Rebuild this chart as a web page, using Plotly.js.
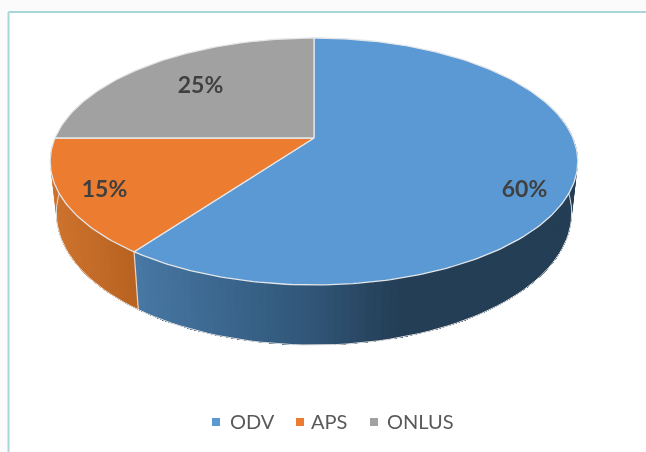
<!DOCTYPE html>
<html>
<head>
<meta charset="utf-8">
<script src="https://cdn.plot.ly/plotly-3.0.1.min.js"></script>
<style>html,body{margin:0;padding:0;background:#fff;overflow:hidden}#chart{width:646px;height:452px;filter:blur(0.45px)}</style>
</head>
<body>
<div id="chart"></div>
<script>
// ---- data ----
var categories = ["ODV", "APS", "ONLUS"];
var shares = [60, 15, 25];
var labels = ["60%", "15%", "25%"];
var faceColors = ["#5A99D4", "#EB7C30", "#A1A1A1"];

// ---- styling / placement ----
var labelPos = {x: [524.5, 104.5, 200.5], y: [191, 191, 87]};
var legendMarkX = [216, 300, 374];
var legendTextX = [230, 311, 387];
var legendY = 424;

// Perspective projection of the disc: top and bottom planes in chart pixels
var top3d = {cx: 314, C: 259, A: -92.8, B: 138, k: 0.19};
var bot3d = {cx: 314, C: 253, A: -91.5, B: 188, k: 0.19};
function project(p, deg) {
  var t = deg * Math.PI / 180, u = Math.sin(t), v = Math.cos(t), d = 1 + p.k * v;
  return [p.cx + p.C * u / d, (p.A * v + p.B) / d];
}
function shade(stops, x) {
  var c = stops[stops.length-1][1];
  if (x <= stops[0][0]) c = stops[0][1];
  else for (var i = 1; i < stops.length; i++) {
    if (x <= stops[i][0]) {
      var f = (x - stops[i-1][0]) / (stops[i][0] - stops[i-1][0]);
      var a = stops[i-1][1], b = stops[i][1];
      c = [0,1,2].map(function(k){return Math.round(a[k] + (b[k]-a[k])*f);});
      break;
    }
  }
  return "rgb(" + c.join(",") + ")";
}
var sideShades = [
  [[137,[72,120,165]],[250,[56,98,136]],[323,[47,84,117]],[400,[36,62,86]],[600,[36,62,86]]],
  [[50,[206,116,46]],[134,[184,98,33]]]
];

var total = shares.reduce(function(a,b){return a+b;},0);
var bounds = [0];
shares.forEach(function(s,i){ bounds.push(bounds[i] + s / total * 360); });

var traces = [];
var none = {width:0};
// side walls: painted in overlapping layers so that the gradient has no seams
function wall(i, from, to, forward) {
  var step = 1.5;
  var layers = [];
  for (var a = from; a < to - 1e-6; a += step) layers.push(a);
  layers.forEach(function(a){
    var xs=[],ys=[],b,p,back=[];
    for (b = a; b < to; b += step) { p = project(top3d,b); xs.push(p[0]); ys.push(p[1]); }
    p = project(top3d,to); xs.push(p[0]); ys.push(p[1]);
    p = project(bot3d,to); xs.push(p[0]); ys.push(p[1]);
    for (b = to; b > a; b -= step) { p = project(bot3d,b); xs.push(p[0]); ys.push(p[1]); }
    p = project(bot3d,a); xs.push(p[0]); ys.push(p[1]);
    var q = project(top3d,a);
    xs.push(q[0]); ys.push(q[1]);
    traces.push({type:"scatter",mode:"lines",x:xs,y:ys,fill:"toself",
      fillcolor:shade(sideShades[i],(q[0]+p[0])/2),line:none,hoverinfo:"skip",showlegend:false});
  });
}
wall(0, 70, bounds[1]);
// orange wall painted from the far (left) end towards the divider
(function(){
  var to = bounds[2], step = 1.5;
  for (var e = to; e > bounds[1] + 1e-6; e -= step) {
    var xs=[],ys=[],b,p;
    for (b = bounds[1]; b < e; b += step) { p = project(top3d,b); xs.push(p[0]); ys.push(p[1]); }
    p = project(top3d,e); xs.push(p[0]); ys.push(p[1]); var q = p;
    p = project(bot3d,e); xs.push(p[0]); ys.push(p[1]); var mid = (q[0]+p[0])/2;
    for (b = e; b > bounds[1]; b -= step) { p = project(bot3d,b); xs.push(p[0]); ys.push(p[1]); }
    p = project(bot3d,bounds[1]); xs.push(p[0]); ys.push(p[1]);
    p = project(top3d,bounds[1]); xs.push(p[0]); ys.push(p[1]);
    traces.push({type:"scatter",mode:"lines",x:xs,y:ys,fill:"toself",
      fillcolor:shade(sideShades[1],mid),line:none,hoverinfo:"skip",showlegend:false});
  }
})();
// outer edge of the bottom rim
(function(){
  var xs=[],ys=[];
  for (var a=80;a<=270;a+=2){var p=project(bot3d,a);xs.push(p[0]);ys.push(p[1]);}
  traces.push({type:"scatter",mode:"lines",x:xs,y:ys,line:{color:"#e2e2e2",width:1},hoverinfo:"skip",showlegend:false});
})();
// top faces
shares.forEach(function(s,i){
  var xs=[top3d.cx],ys=[top3d.B];
  for (var a=bounds[i];a<bounds[i+1];a+=1){var p=project(top3d,a);xs.push(p[0]);ys.push(p[1]);}
  var e=project(top3d,bounds[i+1]);xs.push(e[0],top3d.cx);ys.push(e[1],top3d.B);
  traces.push({type:"scatter",mode:"lines",x:xs,y:ys,fill:"toself",fillcolor:faceColors[i],
    line:{color:"#e4e7ea",width:1.3},name:categories[i],hoverinfo:"skip",showlegend:false});
});
// wall divider
(function(){
  var a=bounds[1],p=project(top3d,a),q=project(bot3d,a);
  traces.push({type:"scatter",mode:"lines",x:[p[0],q[0]],y:[p[1],q[1]],line:{color:"#e4d6c8",width:1.2},hoverinfo:"skip",showlegend:false});
})();
// value labels
traces.push({type:"scatter",mode:"text",x:labelPos.x,y:labelPos.y,text:labels,textposition:"middle center",
  textfont:{family:"Lato, sans-serif",size:23,color:"#404040",weight:700},hoverinfo:"skip",showlegend:false});
// legend
categories.forEach(function(c,i){
  traces.push({type:"scatter",mode:"markers",x:[legendMarkX[i]],y:[422],name:c,
    marker:{symbol:"square",size:8,color:faceColors[i]},hoverinfo:"skip",showlegend:false});
});
traces.push({type:"scatter",mode:"text",x:legendTextX,y:[legendY-2+2,legendY,legendY],text:categories,textposition:"middle right",
  textfont:{family:"Lato, sans-serif",size:20,color:"#595959"},hoverinfo:"skip",showlegend:false});

var layout = {
  width:646,height:452,margin:{l:0,r:0,t:0,b:0},paper_bgcolor:"#fff",plot_bgcolor:"#fff",showlegend:false,
  xaxis:{range:[0,646],visible:false,fixedrange:true},
  yaxis:{range:[452,0],visible:false,fixedrange:true},
  shapes:[
    {type:"rect",layer:"below",x0:0,x1:646,y0:0,y1:11,fillcolor:"#fbfbfb",line:{width:0}},
    {type:"rect",layer:"below",x0:0,x1:7,y0:0,y1:452,fillcolor:"#fbfbfb",line:{width:0}},
    {type:"line",layer:"below",x0:8.5,x1:646,y0:12,y1:12,line:{color:"#A6D6D8",width:2}},
    {type:"line",layer:"below",x0:8.5,x1:8.5,y0:12,y1:452,line:{color:"#A6D6D8",width:2}}
  ]
};
Plotly.newPlot("chart",traces,layout,{staticPlot:true,displayModeBar:false});
</script>
</body>
</html>
